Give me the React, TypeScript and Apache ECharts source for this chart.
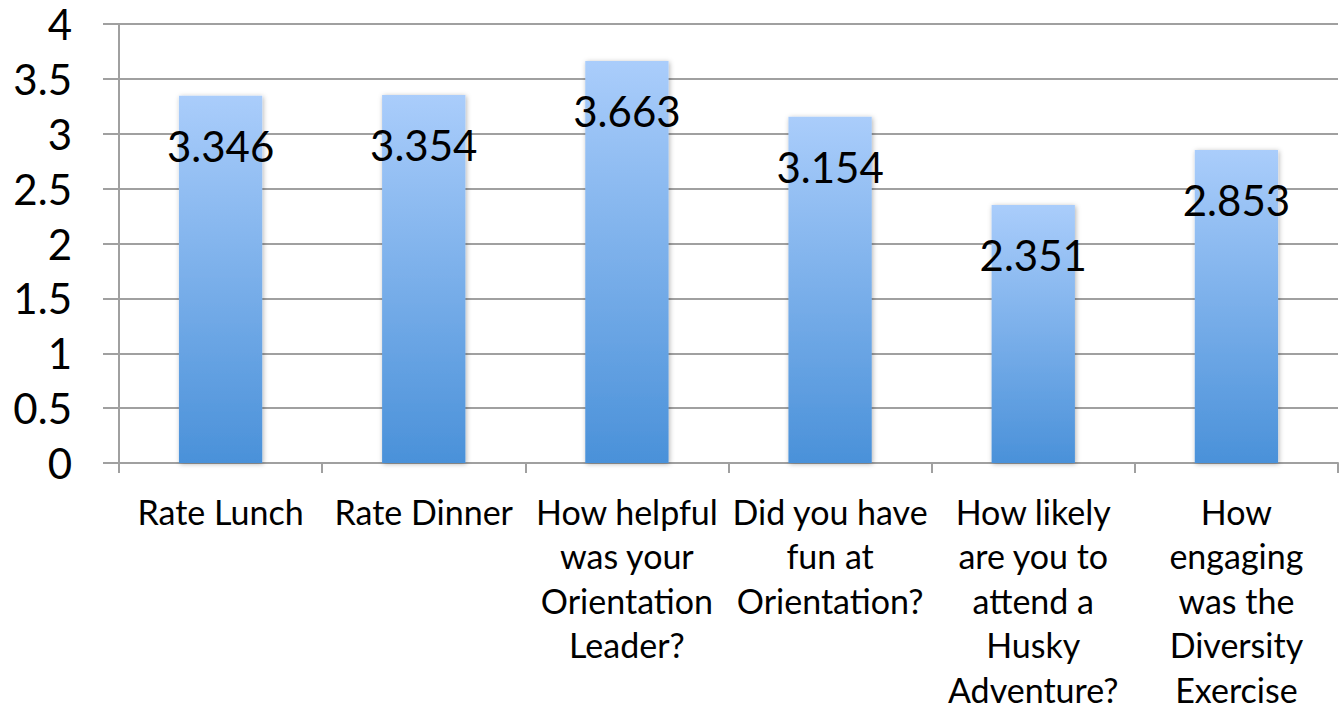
import React, { useEffect, useRef } from "react";
import * as echarts from "echarts";

const categories = [
  "Rate Lunch",
  "Rate Dinner",
  "How helpful\nwas your\nOrientation\nLeader?",
  "Did you have\nfun at\nOrientation?",
  "How likely\nare you to\nattend a\nHusky\nAdventure?",
  "How\nengaging\nwas the\nDiversity\nExercise",
];
const values = [3.346, 3.354, 3.663, 3.154, 2.351, 2.853];
const yTicks = { min: 0, max: 4, interval: 0.5 };

export default function App() {
  const ref = useRef<HTMLDivElement>(null);
  useEffect(() => {
    document.body.style.margin = "0";
    const chart = echarts.init(ref.current!, null, { renderer: "svg" });
    const font = "Lato, 'Open Sans', sans-serif";
    chart.setOption({
      animation: false,
      grid: {
        left: 119,
        right: 2,
        top: 24,
        bottom: 241,
        containLabel: false,
        outerBoundsMode: "none",
      },
      xAxis: {
        type: "category",
        data: categories,
        axisLine: { show: true, lineStyle: { color: "#a0a0a0", width: 2 } },
        axisTick: { show: true, length: 10, lineStyle: { color: "#a0a0a0", width: 2 } },
        axisLabel: {
          interval: 0,
          color: "#000",
          fontFamily: font,
          fontSize: 34,
          lineHeight: 44.5,
          margin: 26,
          verticalAlign: "top",
        },
      },
      yAxis: {
        type: "value",
        min: yTicks.min,
        max: yTicks.max,
        interval: yTicks.interval,
        axisLine: { show: true, lineStyle: { color: "#a0a0a0", width: 2 } },
        axisTick: { show: true, length: 16, lineStyle: { color: "#a0a0a0", width: 2 } },
        splitLine: { show: true, lineStyle: { color: "#a0a0a0", width: 2 } },
        axisLabel: {
          color: "#000",
          fontFamily: font,
          fontSize: 42,
          margin: 47,
          formatter: (v: number) => String(v),
        },
      },
      series: [
        {
          type: "bar",
          data: values,
          barWidth: "41%",
          itemStyle: {
            color: new echarts.graphic.LinearGradient(0, 0, 0, 1, [
              { offset: 0, color: "#aacdfb" },
              { offset: 1, color: "#4a91d9" },
            ]),
            shadowBlur: 5,
            shadowColor: "rgba(0,0,0,0.3)",
            shadowOffsetX: 1,
            shadowOffsetY: 1,
          },
          label: {
            show: true,
            position: "insideTop",
            distance: 29,
            color: "#000",
            fontFamily: font,
            fontSize: 42,
            formatter: (p: any) => p.value.toFixed(3),
          },
        },
      ],
    });
    return () => chart.dispose();
  }, []);
  return <div ref={ref} style={{ width: 1340, height: 704 }} />;
}
